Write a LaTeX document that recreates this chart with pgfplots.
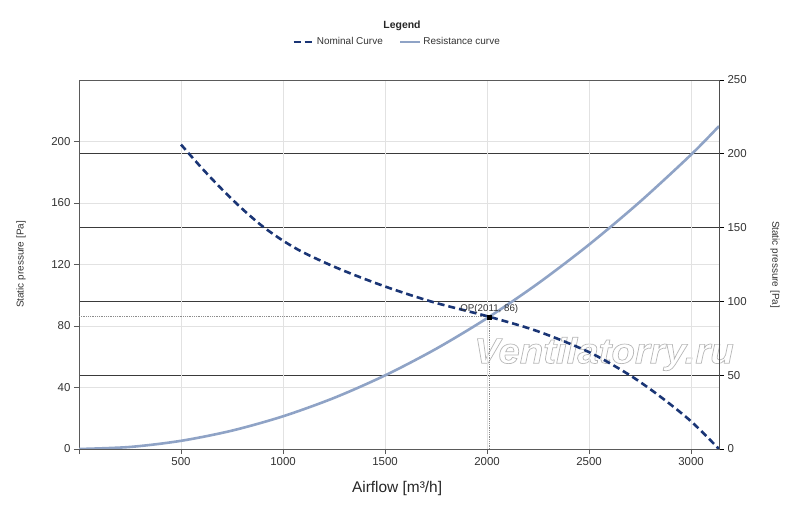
\documentclass[border=0pt]{standalone}
\usepackage{pgfplots}
\pgfplotsset{compat=1.18}
\usepackage{fontspec}
\setmainfont{Liberation Sans}
\definecolor{nomblue}{HTML}{1A3575}
\definecolor{resblue}{HTML}{8FA3C6}
\definecolor{lgrid}{HTML}{E2E2E2}
\definecolor{dgrid}{HTML}{3A3A3A}
\definecolor{axgray}{HTML}{5A5A5A}
\definecolor{ticktext}{HTML}{333333}
\definecolor{wmark}{HTML}{B8B8B8}
\begin{document}
\begin{tikzpicture}
\useasboundingbox (0,0) rectangle (800bp,507bp);
% right axis (0..250) with dark grid lines
\begin{axis}[
  scale only axis, width=640bp, height=369bp,
  at={(79bp,58bp)}, anchor=south west,
  xmin=0, xmax=3137, ymin=0, ymax=250,
  axis x line=none, axis y line*=right,
  ytick={0,50,...,250},
  ymajorgrids, major grid style={dgrid, line width=0.8bp},
  y axis line style={black, line width=0.8bp},
  tick align=outside, major tick length=5bp,
  every tick/.style={black, line width=0.8bp},
  /pgf/number format/assume math mode=true,
  yticklabel style={font=\fontsize{11.5}{13}\selectfont, text=ticktext},
  ylabel={Static pressure [Pa]},
  ylabel style={at={(axis description cs:1.0875,0.5)}, anchor=center, rotate=180, font=\fontsize{10}{12}\selectfont, text=ticktext},
]
\addplot[draw=none, forget plot] coordinates {(0,0)};
\end{axis}
% watermark and legend title (plain text, outside the axes)
\node[anchor=base, text=wmark, font=\bfseries\itshape\fontsize{36}{40}\selectfont, inner sep=0pt] at (604bp,143.7bp)
  {\scalebox{1.07}[1]{\special{pdf:literal direct 1 Tr 0.7 w}Ventilatorry.ru\special{pdf:literal direct 0 Tr}}};
\node[font=\bfseries\fontsize{10.5}{12}\selectfont, text=black!85] at (402bp,481bp) {Legend};
% left axis (0..240) with curves
\begin{axis}[
  scale only axis, width=640bp, height=369bp,
  at={(79bp,58bp)}, anchor=south west,
  xmin=0, xmax=3137, ymin=0, ymax=240,
  xtick={0,500,1000,1500,2000,2500,3000},
  xticklabels={,500,1000,1500,2000,2500,3000},
  ytick={0,40,80,120,160,200},
  xtick pos=left, ytick pos=left,
  grid=major, major grid style={lgrid, line width=0.8bp},
  axis line style={axgray, line width=0.8bp},
  tick align=outside, major tick length=5bp,
  every tick/.style={axgray, line width=0.8bp},
  /pgf/number format/assume math mode=true,
  /pgf/number format/set thousands separator={},
  ticklabel style={font=\fontsize{11.5}{13}\selectfont, text=ticktext},
  xlabel={Airflow [m³/h]},
  xlabel style={at={(axis description cs:0.497,-0.108)}, anchor=center, font=\fontsize{15.5}{18}\selectfont, text=black!85},
  ylabel={Static pressure [Pa]},
  ylabel style={at={(axis description cs:-0.0905,0.5)}, anchor=center, font=\fontsize{10}{12}\selectfont, text=ticktext},
  legend style={at={(axis description cs:0.497,1.103)}, anchor=center, draw=none, fill=none,
    legend columns=2, font=\fontsize{10}{12}\selectfont, text=ticktext,
    /tikz/every even column/.append style={column sep=14bp}},
  legend image code/.code={\draw[#1] (0bp,0bp) -- (20bp,0bp);},
]
% operating point guides
\draw[densely dotted, gray!90, line width=0.8bp] (axis cs:0,86) -- (axis cs:2011,86);
\draw[densely dotted, gray!90, line width=0.8bp] (axis cs:2011,0) -- (axis cs:2011,86);
\addplot[nomblue, line width=2.6bp, dash pattern=on 7bp off 4bp, smooth] coordinates {
  (500,198) (600,183) (700,169) (800,156.2) (900,144.8) (1000,135.5) (1100,127.8)
  (1250,118.6) (1400,110.6) (1550,103.4) (1750,95) (2011,86) (2250,76.5) (2500,63)
  (2700,48) (2850,34) (3000,18) (3137,0)};
\addlegendentry{Nominal Curve}
\addplot[resblue, line width=2.6bp, smooth] coordinates {
  (0,0) (250,1.33) (500,5.32) (750,11.96) (1000,21.27) (1250,33.23) (1500,47.86)
  (1750,65.14) (2000,85.08) (2250,107.68) (2500,132.94) (2750,160.85) (3000,191.43) (3137,210)};
\addlegendentry{Resistance curve}
\addplot[only marks, mark=square*, mark size=2bp, black, forget plot] coordinates {(2011,86)};
\node[anchor=south, font=\fontsize{9.8}{11}\selectfont, text=ticktext, inner sep=1bp] at (axis cs:2011,87.5) {OP(2011, 86)};
\draw[black, line width=0.8bp] (rel axis cs:1,0) -- (rel axis cs:1,1);
\end{axis}
\end{tikzpicture}
\end{document}
